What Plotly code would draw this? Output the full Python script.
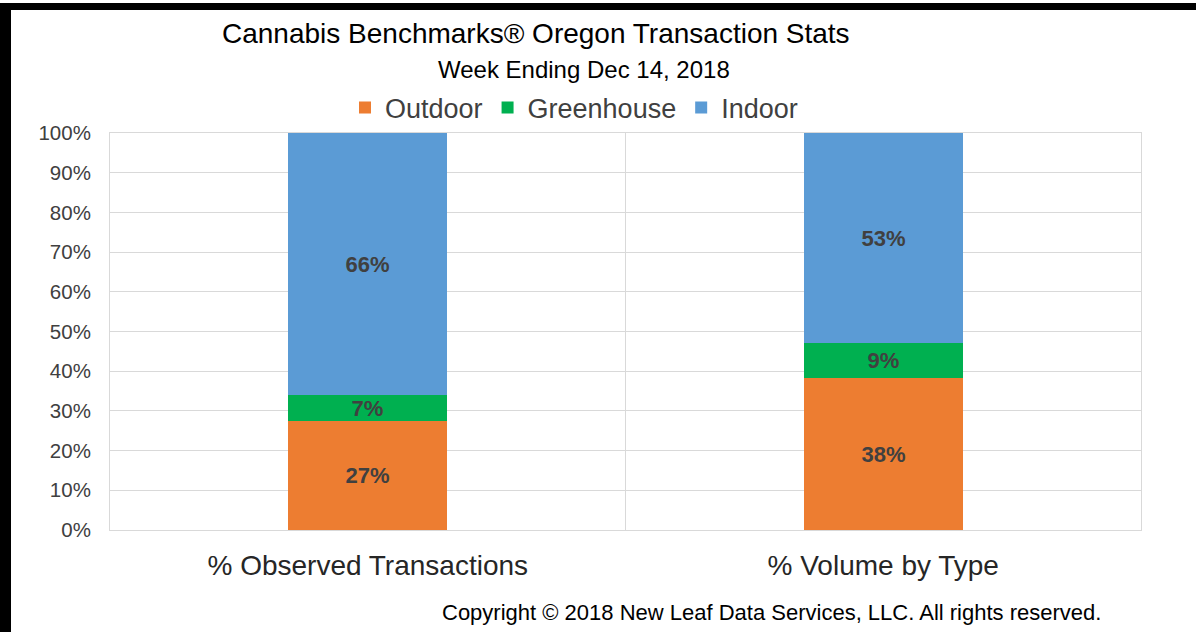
import plotly.graph_objects as go

categories = ["% Observed Transactions", "% Volume by Type"]
outdoor = [27.4, 38.4]
greenhouse = [6.6, 8.6]
indoor = [66.0, 53.0]
series_names = ["Outdoor", "Greenhouse", "Indoor"]
series_colors = ["#ED7D31", "#00B050", "#5B9BD5"]
y_ticks = [0, 10, 20, 30, 40, 50, 60, 70, 80, 90, 100]
y_tick_labels = [f"{v}%" for v in y_ticks]

FONT = "Arial, Liberation Sans, sans-serif"
W, H = 1196, 632
L, R, T, B = 110, 55, 133, 102
pw, ph = W - L - R, H - T - B


def px_x(p):
    return (p - L) / pw


def px_y(p):
    return (H - B - p) / ph


fig = go.Figure()
for name, vals, col in zip(series_names, [outdoor, greenhouse, indoor], series_colors):
    fig.add_trace(go.Bar(
        x=categories, y=vals, name=name, marker=dict(color=col, line=dict(width=0)),
        width=0.308, texttemplate="%{y:.0f}%", textposition="inside",
        insidetextanchor="middle", constraintext="none",
        textfont=dict(color="#404040", size=22, family=FONT, weight="bold"),
        hoverinfo="skip",
    ))

fig.update_layout(
    width=W, height=H, barmode="stack",
    margin=dict(l=L, r=R, t=T, b=B),
    paper_bgcolor="white", plot_bgcolor="white",
    font=dict(family=FONT, color="#262626"),
    uniformtext=dict(minsize=22, mode="show"),
    legend=dict(orientation="h", x=px_x(574), xanchor="center", y=px_y(108), yanchor="middle",
                font=dict(size=27, color="#404040", family=FONT), itemwidth=30,
                traceorder="normal", bgcolor="rgba(0,0,0,0)"),
    xaxis=dict(type="category", tickson="boundaries", showgrid=True, gridcolor="#d9d9d9",
               gridwidth=1, showline=True, linecolor="#d9d9d9", mirror=True, ticks="",
               tickfont=dict(size=28, color="#262626", family=FONT), ticklabelstandoff=10,
               range=[-0.5, 1.5]),
    yaxis=dict(range=[0, 100], tickvals=y_ticks, ticktext=y_tick_labels, showgrid=True,
               gridcolor="#d9d9d9", gridwidth=1, showline=True, linecolor="#d9d9d9",
               mirror=True, zeroline=False, ticks="",
               tickfont=dict(size=20.5, color="#404040", family=FONT), ticklabelstandoff=14),
    bargap=0,
)

fig.add_annotation(text="Cannabis Benchmarks® Oregon Transaction Stats", xref="paper", yref="paper",
                   x=px_x(535.5), y=px_y(33), xanchor="center", yanchor="middle", showarrow=False,
                   font=dict(size=28, color="#000000", family=FONT))
fig.add_annotation(text="Week Ending Dec 14, 2018", xref="paper", yref="paper",
                   x=px_x(584), y=px_y(69), xanchor="center", yanchor="middle", showarrow=False,
                   font=dict(size=24, color="#000000", family=FONT))
fig.add_annotation(text="Copyright © 2018 New Leaf Data Services, LLC. All rights reserved.",
                   xref="paper", yref="paper", x=px_x(771.5), y=px_y(612), xanchor="center",
                   yanchor="middle", showarrow=False,
                   font=dict(size=22, color="#000000", family=FONT))

# black frame (top and left)
fig.add_shape(type="rect", xref="paper", yref="paper", x0=px_x(0), x1=px_x(W), y0=px_y(10), y1=px_y(3),
              fillcolor="black", line=dict(width=0), layer="above")
fig.add_shape(type="rect", xref="paper", yref="paper", x0=px_x(0), x1=px_x(11), y0=px_y(H), y1=px_y(3),
              fillcolor="black", line=dict(width=0), layer="above")

fig.write_html("out.html", config={"displayModeBar": False},
               post_script="document.body.style.margin='0';")
